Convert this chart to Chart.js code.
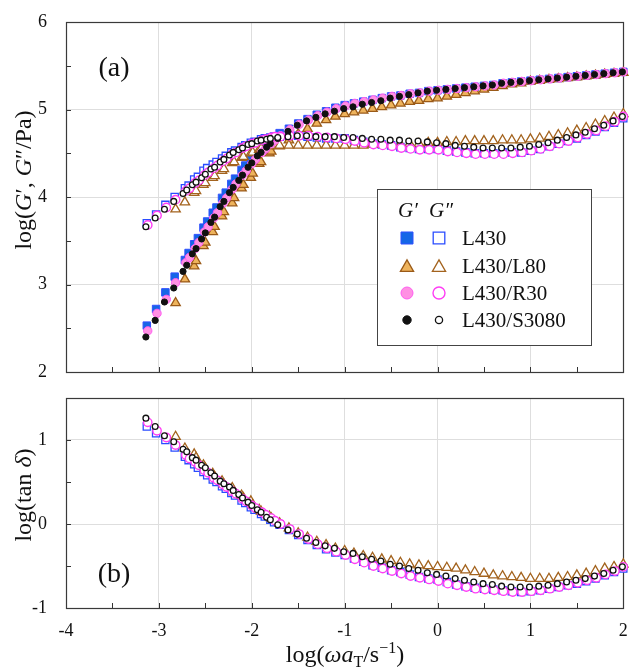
<!DOCTYPE html>
<html><head><meta charset="utf-8">
<script src="https://cdn.jsdelivr.net/npm/chart.js@4.4.1/dist/chart.umd.min.js"></script>
<style>
html,body{margin:0;padding:0;background:#fff;}
#wrap{position:relative;width:630px;height:668px;overflow:hidden;background:#fff;}
canvas{position:absolute;left:0;}
</style></head><body>
<div id="wrap">
<canvas id="cTop" width="630" height="385" style="top:0;width:630px;height:385px"></canvas>
<canvas id="cBot" width="630" height="283" style="top:385px;width:630px;height:283px"></canvas>
</div>
<script>
// ---------- data ----------
const samples = ['L430', 'L430/L80', 'L430/R30', 'L430/S3080'];
const xTicks = [-4, -3, -2, -1, 0, 1, 2];
const yTicksTop = [2, 3, 4, 5, 6];
const yTicksBot = [-1, 0, 1];

const xL430 = [-3.13,-3.03,-2.93,-2.83,-2.72,-2.68,-2.62,-2.58,-2.52,-2.48,-2.42,-2.38,-2.32,-2.28,-2.22,-2.18,-2.11,-2.07,-2.01,-1.97,-1.90,-1.86,-1.80,-1.76,-1.70,
  -1.6,-1.5,-1.4,-1.3,-1.2,-1.1,-1.0,-0.9,-0.8,-0.7,-0.6,-0.5,-0.4,-0.3,-0.2,-0.1,0.0,0.1,0.2,0.3,0.4,0.5,0.6,0.7,0.8,0.9,1.0,1.1,1.2,1.3,1.4,1.5,1.6,1.7,1.8,1.9,2.0];
const gpL430 = [2.53,2.72,2.91,3.09,3.28,3.36,3.46,3.53,3.65,3.72,3.82,3.88,3.99,4.05,4.15,4.21,4.31,4.36,4.44,4.48,4.55,4.59,4.64,4.68,4.73,
  4.78,4.84,4.89,4.94,4.98,5.02,5.05,5.07,5.09,5.11,5.13,5.15,5.16,5.18,5.19,5.21,5.22,5.23,5.24,5.25,5.26,5.27,5.28,5.30,5.31,5.32,5.33,5.34,5.35,5.36,5.37,5.38,5.39,5.40,5.41,5.42,5.43];
const gppL430 = [3.70,3.80,3.91,4.00,4.10,4.13,4.20,4.23,4.30,4.33,4.37,4.40,4.44,4.47,4.51,4.53,4.57,4.59,4.62,4.63,4.66,4.67,4.68,4.69,4.69,
  4.70,4.70,4.69,4.68,4.67,4.67,4.67,4.65,4.63,4.61,4.60,4.59,4.57,4.56,4.55,4.55,4.55,4.53,4.52,4.51,4.50,4.50,4.50,4.51,4.51,4.51,4.53,4.55,4.58,4.61,4.64,4.67,4.71,4.75,4.80,4.85,4.90];
const tdL430 = [1.16,1.08,1.00,0.91,0.80,0.76,0.71,0.67,0.62,0.58,0.53,0.50,0.45,0.42,0.37,0.34,0.28,0.25,0.20,0.17,0.12,0.09,0.05,0.02,-0.01,
  -0.07,-0.13,-0.19,-0.25,-0.30,-0.34,-0.37,-0.41,-0.45,-0.49,-0.52,-0.55,-0.57,-0.60,-0.63,-0.65,-0.66,-0.69,-0.72,-0.74,-0.76,-0.77,-0.78,-0.79,-0.80,-0.81,-0.80,-0.79,-0.77,-0.75,-0.73,-0.71,-0.68,-0.65,-0.61,-0.57,-0.53];

const xL80 = [-2.82,-2.72,-2.62,-2.60,-2.52,-2.50,-2.42,-2.40,-2.32,-2.30,-2.21,-2.19,-2.11,-2.09,-2.01,-1.99,-1.92,-1.90,-1.81,-1.79,-1.70,
  -1.6,-1.5,-1.4,-1.3,-1.2,-1.1,-1.0,-0.9,-0.8,-0.7,-0.6,-0.5,-0.4,-0.3,-0.2,-0.1,0.0,0.1,0.2,0.3,0.4,0.5,0.6,0.7,0.8,0.9,1.0,1.1,1.2,1.3,1.4,1.5,1.6,1.7,1.8,1.9,2.0];
const gpL80 = [2.79,3.06,3.21,3.27,3.44,3.48,3.60,3.66,3.78,3.83,3.93,3.99,4.10,4.14,4.22,4.27,4.38,4.40,4.50,4.52,4.58,
  4.65,4.72,4.78,4.84,4.88,4.92,4.95,4.97,4.99,5.01,5.03,5.05,5.07,5.09,5.10,5.12,5.13,5.15,5.17,5.19,5.21,5.23,5.25,5.27,5.29,5.30,5.32,5.33,5.34,5.35,5.36,5.37,5.38,5.39,5.40,5.41,5.42];
const gppL80 = [3.86,3.94,4.05,4.07,4.14,4.16,4.22,4.24,4.30,4.32,4.39,4.40,4.45,4.46,4.50,4.51,4.54,4.55,4.58,4.59,4.59,
  4.59,4.59,4.59,4.59,4.59,4.59,4.59,4.59,4.59,4.60,4.60,4.60,4.60,4.61,4.61,4.62,4.62,4.63,4.63,4.64,4.64,4.64,4.64,4.65,4.65,4.65,4.66,4.67,4.69,4.71,4.73,4.76,4.79,4.83,4.87,4.91,4.95];
const tdL80 = [1.04,0.90,0.83,0.79,0.70,0.66,0.60,0.56,0.51,0.47,0.43,0.38,0.34,0.31,0.27,0.23,0.17,0.15,0.09,0.07,0.01,
  -0.05,-0.11,-0.16,-0.21,-0.25,-0.29,-0.32,-0.35,-0.38,-0.40,-0.42,-0.44,-0.46,-0.48,-0.49,-0.50,-0.51,-0.52,-0.53,-0.55,-0.57,-0.59,-0.61,-0.62,-0.63,-0.64,-0.65,-0.65,-0.65,-0.64,-0.63,-0.61,-0.59,-0.56,-0.53,-0.51,-0.48];

const xR30 = [-3.12,-3.02,-2.92,-2.82,-2.71,-2.67,-2.61,-2.57,-2.51,-2.47,-2.41,-2.37,-2.31,-2.27,-2.21,-2.17,-2.10,-2.06,-2.00,-1.96,-1.89,-1.85,-1.79,-1.75,-1.69,
  -1.59,-1.49,-1.39,-1.29,-1.19,-1.09,-0.99,-0.89,-0.79,-0.69,-0.59,-0.49,-0.39,-0.29,-0.19,-0.09,0.01,0.11,0.21,0.31,0.41,0.51,0.61,0.71,0.81,0.91,1.01,1.11,1.21,1.31,1.41,1.51,1.61,1.71,1.81,1.91,2.0];
const gpR30 = [2.47,2.67,2.83,3.02,3.25,3.31,3.41,3.48,3.60,3.66,3.76,3.82,3.93,3.99,4.09,4.15,4.25,4.30,4.38,4.43,4.51,4.55,4.61,4.65,4.70,
  4.77,4.83,4.88,4.93,4.97,5.01,5.04,5.07,5.09,5.11,5.13,5.15,5.16,5.18,5.19,5.21,5.22,5.23,5.24,5.25,5.26,5.27,5.28,5.30,5.31,5.32,5.33,5.34,5.35,5.36,5.37,5.38,5.39,5.40,5.41,5.42,5.43];
const gppR30 = [3.68,3.79,3.88,3.97,4.07,4.10,4.16,4.19,4.25,4.28,4.33,4.36,4.41,4.44,4.49,4.51,4.56,4.58,4.61,4.62,4.65,4.66,4.68,4.69,4.69,
  4.70,4.70,4.70,4.69,4.68,4.67,4.66,4.64,4.62,4.60,4.59,4.58,4.56,4.55,4.54,4.54,4.54,4.52,4.51,4.50,4.49,4.49,4.49,4.49,4.50,4.51,4.53,4.55,4.58,4.61,4.64,4.68,4.72,4.76,4.81,4.86,4.92];
const tdR30 = [1.21,1.11,1.03,0.94,0.82,0.78,0.74,0.70,0.64,0.61,0.55,0.52,0.47,0.44,0.39,0.36,0.30,0.27,0.22,0.19,0.14,0.11,0.07,0.04,0.00,
  -0.06,-0.12,-0.18,-0.24,-0.29,-0.33,-0.37,-0.42,-0.46,-0.50,-0.53,-0.56,-0.59,-0.62,-0.64,-0.66,-0.68,-0.71,-0.73,-0.75,-0.77,-0.78,-0.79,-0.80,-0.81,-0.81,-0.80,-0.79,-0.77,-0.75,-0.73,-0.70,-0.67,-0.64,-0.60,-0.56,-0.51];

const xS3080 = [-3.14,-3.04,-2.94,-2.84,-2.74,-2.70,-2.64,-2.60,-2.54,-2.50,-2.44,-2.40,-2.34,-2.30,-2.24,-2.20,-2.14,-2.10,-2.04,-2.00,-1.94,-1.90,-1.84,-1.80,-1.72,
  -1.61,-1.51,-1.41,-1.31,-1.21,-1.11,-1.01,-0.91,-0.81,-0.71,-0.61,-0.51,-0.41,-0.31,-0.21,-0.11,-0.01,0.09,0.19,0.29,0.39,0.49,0.59,0.69,0.79,0.89,0.99,1.09,1.19,1.29,1.39,1.49,1.59,1.69,1.79,1.89,1.99];
const gpS3080 = [2.40,2.59,2.80,2.96,3.15,3.22,3.35,3.41,3.52,3.59,3.71,3.77,3.89,3.95,4.05,4.11,4.19,4.25,4.34,4.39,4.47,4.51,4.57,4.61,4.67,
  4.75,4.82,4.87,4.91,4.95,4.98,5.01,5.03,5.06,5.08,5.10,5.13,5.15,5.17,5.19,5.21,5.22,5.23,5.24,5.25,5.26,5.27,5.28,5.30,5.31,5.32,5.33,5.34,5.35,5.36,5.37,5.38,5.39,5.40,5.41,5.42,5.43];
const gppS3080 = [3.66,3.76,3.86,3.95,4.04,4.08,4.14,4.17,4.22,4.26,4.32,4.34,4.40,4.43,4.48,4.51,4.54,4.56,4.60,4.61,4.64,4.65,4.66,4.67,4.68,
  4.69,4.70,4.70,4.69,4.69,4.69,4.68,4.68,4.67,4.66,4.66,4.65,4.65,4.64,4.64,4.63,4.62,4.61,4.59,4.58,4.57,4.56,4.56,4.56,4.56,4.57,4.58,4.60,4.62,4.65,4.68,4.71,4.74,4.78,4.82,4.87,4.92];
const tdS3080 = [1.26,1.16,1.05,0.98,0.89,0.86,0.79,0.76,0.70,0.67,0.61,0.57,0.51,0.48,0.44,0.40,0.35,0.31,0.26,0.22,0.17,0.14,0.08,0.05,-0.01,
  -0.07,-0.12,-0.17,-0.22,-0.26,-0.29,-0.33,-0.35,-0.39,-0.42,-0.44,-0.48,-0.50,-0.53,-0.55,-0.58,-0.60,-0.62,-0.65,-0.67,-0.69,-0.71,-0.72,-0.74,-0.75,-0.75,-0.75,-0.74,-0.73,-0.71,-0.69,-0.67,-0.65,-0.62,-0.59,-0.55,-0.51];

// ---------- styles ----------
const FONT = '"Liberation Serif","Times New Roman",serif';
Chart.defaults.font.family = FONT;
const ST = {
  blueF:  {ps:'rect', r:5.3, fill:'#1566e6', stroke:'#3150ff', bw:1, lr:8.5},
  blueO:  {ps:'rect', r:5.1, fill:'#ffffff', stroke:'#2a4cff', bw:1.3, lr:8.2},
  triF:   {ps:'triangle', r:5.4, fill:'#eeb35c', stroke:'#9a5a18', bw:1.3, lr:7.6},
  triO:   {ps:'triangle', r:5.4, fill:'#ffffff', stroke:'#a3631e', bw:1.3, lr:7.6},
  pinkF:  {ps:'circle', r:4.2, fill:'#ff90e3', stroke:'#ff5cf0', bw:1, lr:6},
  pinkO:  {ps:'circle', r:4.2, fill:'#ffffff', stroke:'#ff3df5', bw:1.4, lr:6},
  blackF: {ps:'circle', r:3.1, fill:'#111111', stroke:'#111111', bw:1, lr:4.2},
  blackO: {ps:'circle', r:2.9, fill:'#ffffff', stroke:'#111111', bw:1.3, lr:3.6}
};
function ds(label, xs, ys, st, order) {
  return {label, data: xs.map((x, i) => ({x, y: ys[i]})), showLine:false,
    pointStyle: st.ps, pointRadius: st.r, pointHoverRadius: st.r,
    pointBackgroundColor: st.fill, pointBorderColor: st.stroke, pointBorderWidth: st.bw,
    order, clip: 10};
}

// ---------- drawing helpers ----------
function fnt(s){ return (s.it ? 'italic ' : '') + (s.sz || 24) + 'px ' + FONT; }
function drawRich(ctx, segs, x, y){
  let w = 0;
  for (const s of segs){ ctx.font = fnt(s); w += ctx.measureText(s.t).width; }
  let cx = x - w / 2;
  ctx.textAlign = 'left'; ctx.textBaseline = 'alphabetic';
  for (const s of segs){ ctx.font = fnt(s); ctx.fillText(s.t, cx, y + (s.dy || 0)); cx += ctx.measureText(s.t).width; }
}
function marker(ctx, st, x, y, r){
  ctx.beginPath();
  if (st.ps === 'rect'){ const h = r * Math.SQRT1_2; ctx.rect(x - h, y - h, 2 * h, 2 * h); }
  else if (st.ps === 'triangle'){
    ctx.moveTo(x, y - r);
    ctx.lineTo(x + r * Math.sin(2*Math.PI/3), y - r * Math.cos(2*Math.PI/3));
    ctx.lineTo(x + r * Math.sin(4*Math.PI/3), y - r * Math.cos(4*Math.PI/3));
    ctx.closePath();
  } else ctx.arc(x, y, r, 0, 2 * Math.PI);
  ctx.fillStyle = st.fill; ctx.fill();
  ctx.lineWidth = st.bw; ctx.strokeStyle = st.stroke; ctx.stroke();
}
function frameAndTicks(chart, yMin, yMax){
  const {ctx, chartArea:{left, right, top, bottom}, scales:{x, y}} = chart;
  ctx.save();
  ctx.strokeStyle = '#333'; ctx.lineWidth = 1;
  ctx.beginPath();
  for (let v = -4; v <= 2.001; v += 0.5){
    const px = Math.round(x.getPixelForValue(v)) + 0.5;
    ctx.moveTo(px, bottom); ctx.lineTo(px, bottom - 5);
  }
  for (let v = yMin; v <= yMax + 0.001; v += 0.5){
    const py = Math.round(y.getPixelForValue(v)) + 0.5;
    ctx.moveTo(left, py); ctx.lineTo(left + 5, py);
  }
  ctx.stroke();
  ctx.lineWidth = 1.2; ctx.strokeStyle = '#3a3a3a';
  ctx.strokeRect(Math.round(left) + 0.5, Math.round(top) + 0.5, Math.round(right - left), Math.round(bottom - top));
  ctx.restore();
}
function yTitle(ctx, segs, bx, cy){
  ctx.save(); ctx.translate(bx, cy); ctx.rotate(-Math.PI / 2);
  ctx.fillStyle = '#111'; drawRich(ctx, segs, 0, 0); ctx.restore();
}
function zeroPad(a){ a.paddingLeft = 0; a.paddingRight = 0; a.paddingTop = 0; a.paddingBottom = 0; }
function axisCommon(ticksArr, showLabels, hFix){
  return {
    type:'linear', min: ticksArr[0], max: ticksArr[ticksArr.length - 1],
    afterBuildTicks: a => { a.ticks = ticksArr.map(v => ({value: v})); },
    ticks: {display: showLabels, color:'#111', font:{size:18, family:FONT}, padding: 12, callback: v => String(v), maxRotation:0, autoSkip:false},
    grid: {color:'#dedede', lineWidth:1, drawTicks:false},
    border: {display:false},
    afterFit: a => { hFix(a); zeroPad(a); }
  };
}
function yAxis(ticksArr, mn, mx){
  const o = axisCommon(ticksArr, true, a => { a.width = 66; });
  o.min = mn; o.max = mx; o.ticks.padding = 19;
  return o;
}

// ---------- top chart ----------
const topPlugin = {
  id:'decoTop',
  beforeDatasetsDraw(chart){ frameAndTicks(chart, 2, 6); },
  afterDraw(chart){
    const ctx = chart.ctx; ctx.save(); ctx.fillStyle = '#111';
    ctx.font = '28px ' + FONT; ctx.textAlign = 'center'; ctx.textBaseline = 'alphabetic';
    ctx.fillText('(a)', 114, 76);
    yTitle(ctx, [{t:'log('}, {t:'G', it:true}, {t:'′, '}, {t:'G', it:true}, {t:'″/Pa)'}], 31, 180);
    // legend
    ctx.strokeStyle = '#444'; ctx.lineWidth = 1;
    ctx.fillStyle = '#fff'; ctx.fillRect(377, 189, 214, 156);
    ctx.strokeRect(377.5, 189.5, 214, 156);
    ctx.fillStyle = '#111'; ctx.textAlign = 'left';
    ctx.font = 'italic 21px ' + FONT;
    ctx.fillText('G′', 398, 217); ctx.fillText('G″', 429, 217);
    const rows = [[ST.blueF, ST.blueO], [ST.triF, ST.triO], [ST.pinkF, ST.pinkO], [ST.blackF, ST.blackO]];
    const ys = [238, 266, 293, 320];
    rows.forEach((r, i) => {
      const off = r[0].ps === 'triangle' ? 1.5 : 0;
      marker(ctx, r[0], 407, ys[i] + off, r[0].lr);
      marker(ctx, r[1], 439, ys[i] + off, r[1].lr);
      ctx.fillStyle = '#111'; ctx.font = '21px ' + FONT; ctx.textAlign = 'left';
      ctx.fillText(samples[i], 462, ys[i] + 7);
    });
    ctx.restore();
  }
};
new Chart(document.getElementById('cTop'), {
  type:'scatter',
  data:{datasets:[
    ds(samples[0] + " G'", xL430, gpL430, ST.blueF, 8),
    ds(samples[0] + ' G"', xL430, gppL430, ST.blueO, 7),
    ds(samples[1] + " G'", xL80, gpL80, ST.triF, 6),
    ds(samples[1] + ' G"', xL80, gppL80, ST.triO, 5),
    ds(samples[2] + " G'", xR30, gpR30, ST.pinkF, 4),
    ds(samples[2] + ' G"', xR30, gppR30, ST.pinkO, 3),
    ds(samples[3] + " G'", xS3080, gpS3080, ST.blackF, 2),
    ds(samples[3] + ' G"', xS3080, gppS3080, ST.blackO, 1)
  ]},
  options:{
    responsive:false, animation:false, devicePixelRatio:1,
    layout:{padding:{left:0, right:6, top:22, bottom:0}},
    plugins:{legend:{display:false}, tooltip:{enabled:false}},
    scales:{
      x: axisCommon(xTicks, false, a => { a.height = 13; }),
      y: yAxis(yTicksTop, 2, 6)
    }
  },
  plugins:[topPlugin]
});

// ---------- bottom chart ----------
const botPlugin = {
  id:'decoBot',
  beforeDatasetsDraw(chart){ frameAndTicks(chart, -1, 1.5); },
  afterDraw(chart){
    const ctx = chart.ctx; ctx.save(); ctx.fillStyle = '#111';
    ctx.font = '28px ' + FONT; ctx.textAlign = 'center'; ctx.textBaseline = 'alphabetic';
    ctx.fillText('(b)', 114, 197);
    yTitle(ctx, [{t:'log(tan '}, {t:'δ', it:true}, {t:')'}], 31, 110);
    drawRich(ctx, [{t:'log('}, {t:'ω', it:true}, {t:'a', it:true}, {t:'T', sz:16, dy:5}, {t:'/s'}, {t:'−1', sz:16, dy:-9}, {t:')'}], 345, 277);
    ctx.restore();
  }
};
new Chart(document.getElementById('cBot'), {
  type:'scatter',
  data:{datasets:[
    ds(samples[0], xL430, tdL430, ST.blueO, 4),
    ds(samples[1], xL80, tdL80, ST.triO, 3),
    ds(samples[2], xR30, tdR30, ST.pinkO, 2),
    ds(samples[3], xS3080, tdS3080, ST.blackO, 1)
  ]},
  options:{
    responsive:false, animation:false, devicePixelRatio:1,
    layout:{padding:{left:0, right:6, top:13, bottom:0}},
    plugins:{legend:{display:false}, tooltip:{enabled:false}},
    scales:{
      x: axisCommon(xTicks, true, a => { a.height = 60; }),
      y: yAxis(yTicksBot, -1, 1.5)
    }
  },
  plugins:[botPlugin]
});
</script>
</body></html>
